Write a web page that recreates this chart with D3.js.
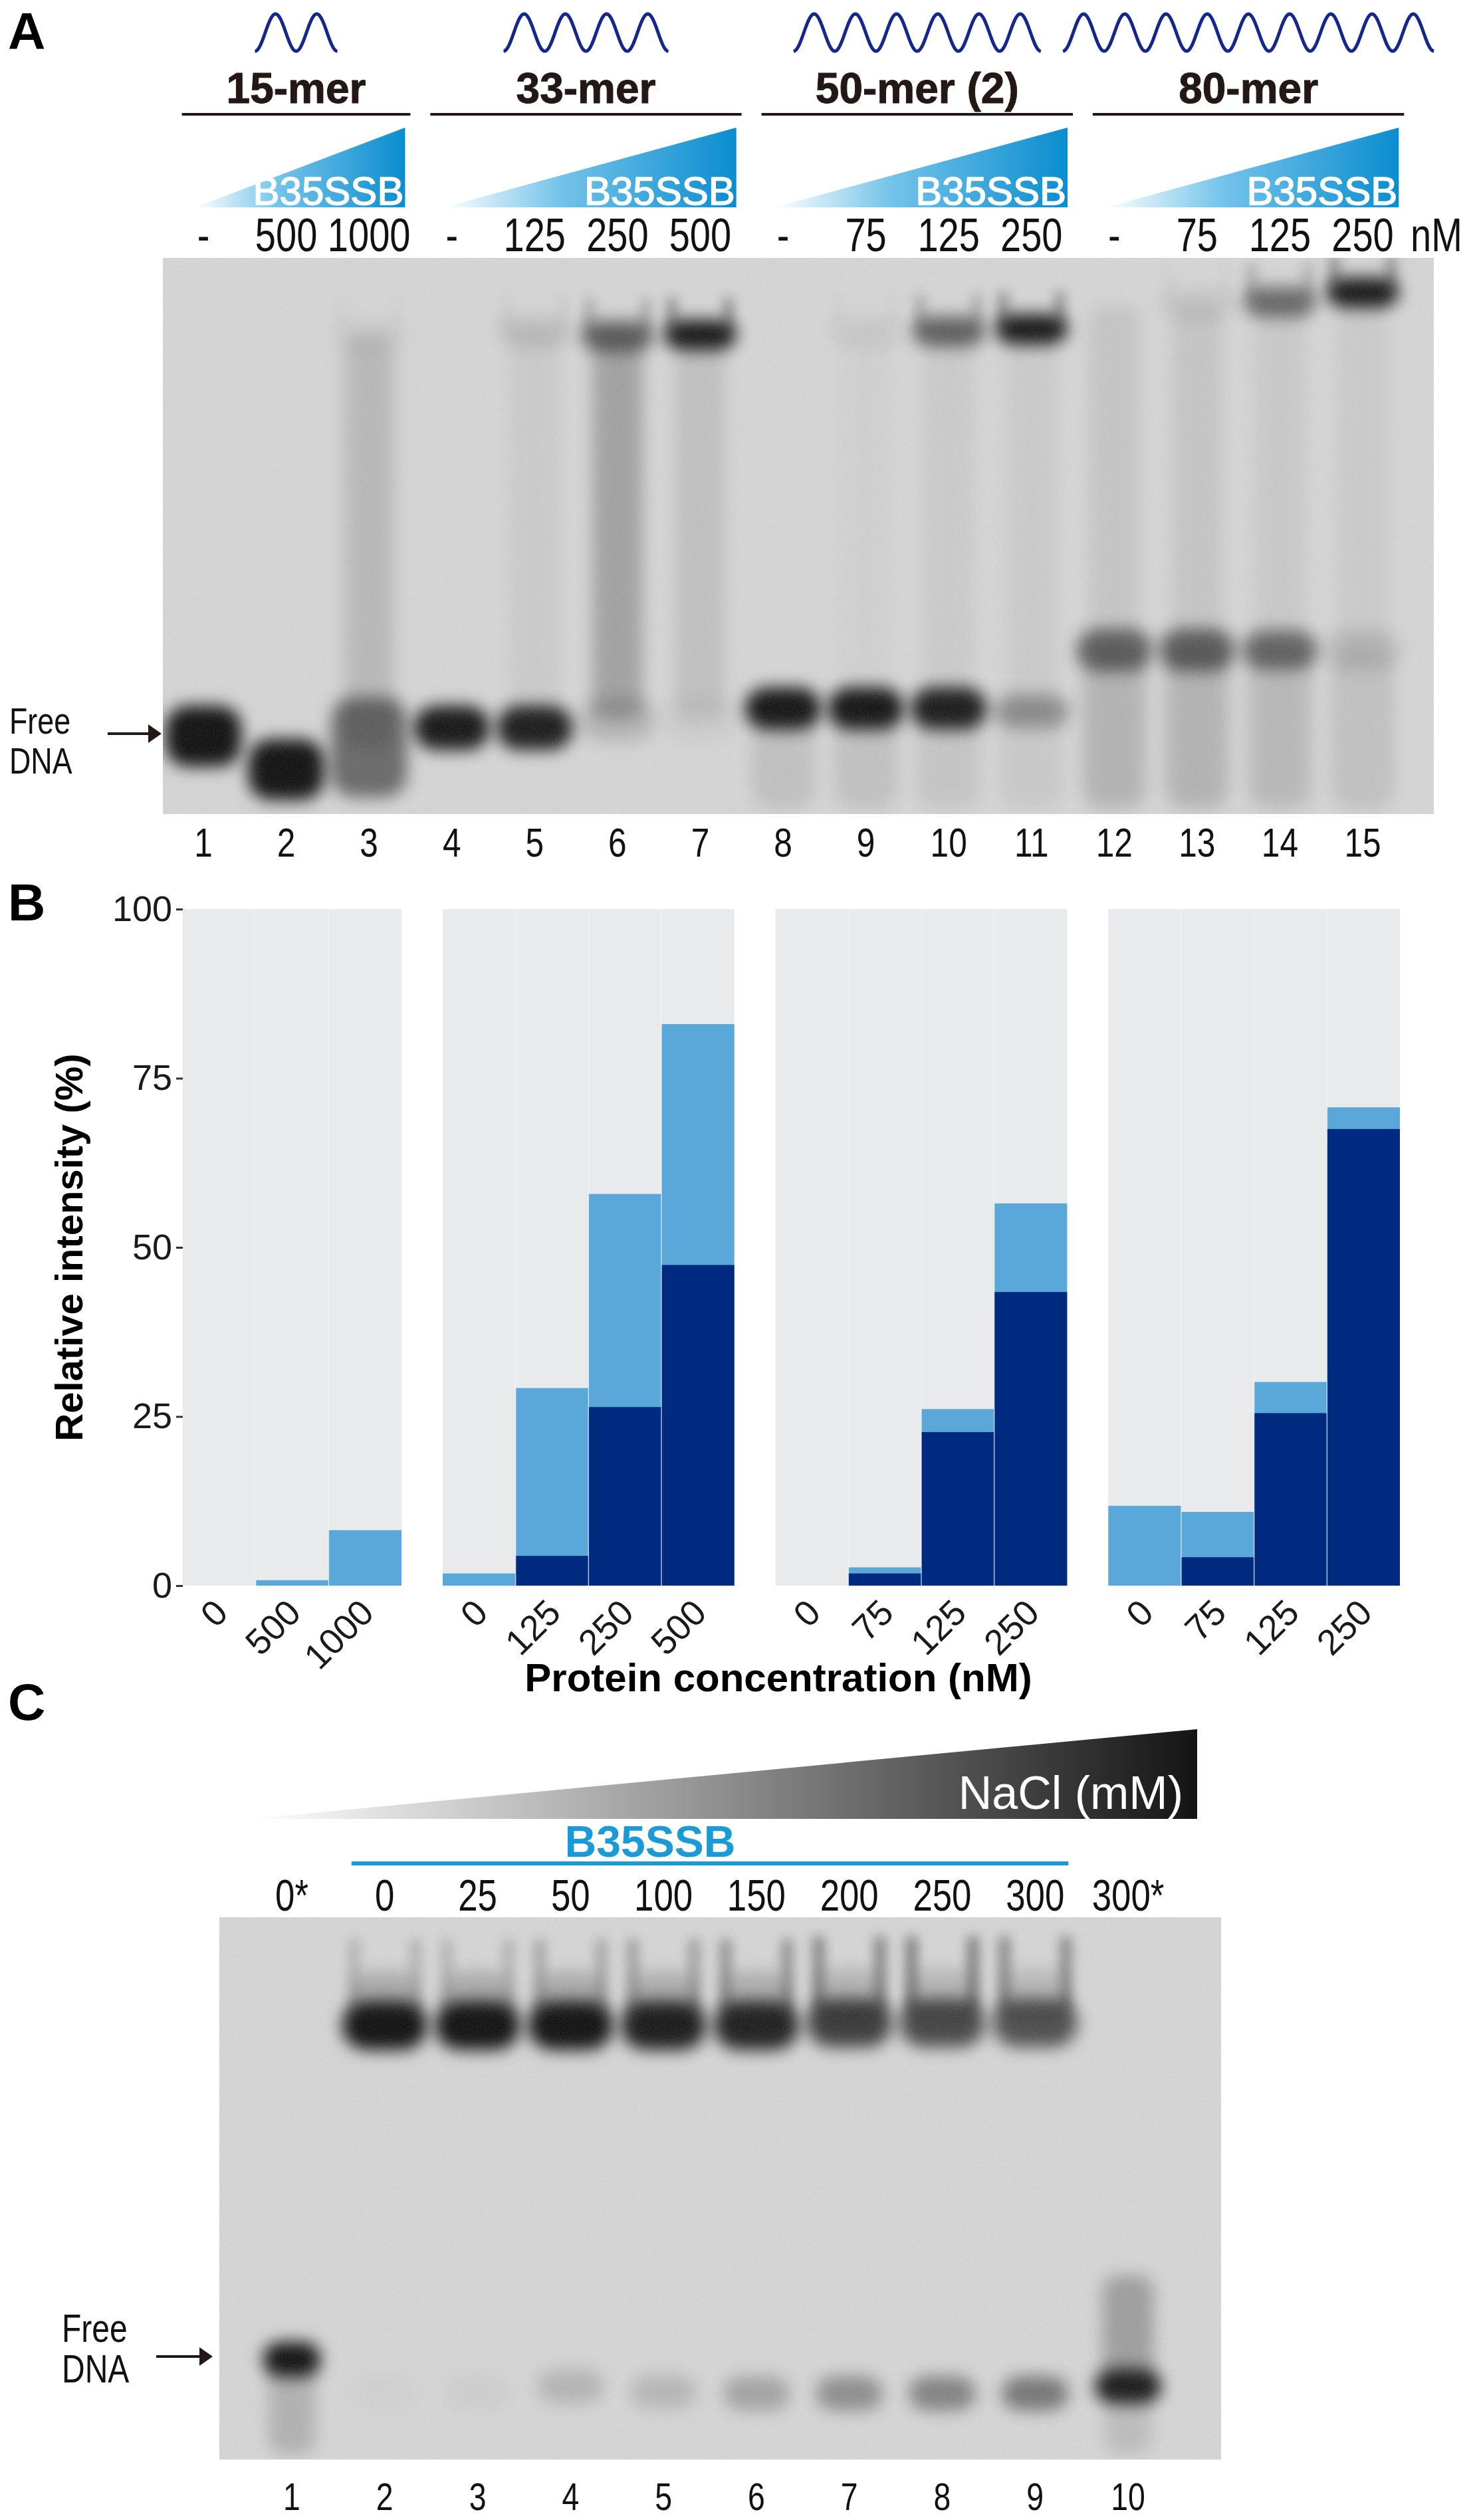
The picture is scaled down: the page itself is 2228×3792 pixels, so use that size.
<!DOCTYPE html>
<html>
<head>
<meta charset="utf-8">
<script src="https://cdn.jsdelivr.net/npm/d3@7"></script>
<style>
  body { margin: 0; background: #fff; }
  svg { display: block; }
  text { font-family: "Liberation Sans", Arial, sans-serif; }
</style>
</head>
<body>
<div id="fig"></div>
<script>
// ---------- data ----------
// panel A: EMSA with oligos of different length
const oligos = ['15-mer', '33-mer', '50-mer (2)', '80-mer'];
const waveCycles = [2, 4, 6, 9];
const groupLanes = [[1, 3], [4, 7], [8, 11], [12, 15]];
const concLabelsA = ['-', '500', '1000', '-', '125', '250', '500', '-', '75', '125', '250', '-', '75', '125', '250'];
const laneNumbersA = d3.range(1, 16);
// band estimates: migration in % of gel length (0 = well), spread in %, darkness 0..1
const freeMigA = [86, 92, 88, 84.5, 84.5, 83, 83, 81, 81, 81, 81.5, 70.5, 70.5, 70.5, 70.5];
const freeSpreadA = [5.5, 5.5, 9, 4, 4, 4, 4, 3.8, 3.8, 3.8, 3, 3.8, 3.8, 3.5, 3.5];
const freeIntA = [1, 1, 0.55, 0.97, 0.94, 0.16, 0.04, 0.98, 0.98, 0.94, 0.35, 0.58, 0.6, 0.55, 0.13];
const cplxMigA = [14, 14, 14, 14, 13.6, 14.3, 14.1, 13.5, 13.5, 13.5, 13.1, 8.6, 8.6, 8.2, 6.5];
const cplxIntA = [0, 0, 0.05, 0, 0.12, 0.6, 0.97, 0, 0.06, 0.6, 0.97, 0, 0.08, 0.55, 0.97];
const smearIntA = [0, 0, 0.14, 0, 0.05, 0.26, 0.1, 0, 0.02, 0.05, 0.05, 0.08, 0.08, 0.06, 0.05];
const tailIntA = [0, 0, 0, 0, 0, 0, 0, 0.1, 0.1, 0.08, 0.06, 0.17, 0.17, 0.14, 0.1];

// panel B: quantification (%)
const facetsB = ['15-mer', '33-mer', '50-mer', '80-mer'];
const concB = [['0', '500', '1000'], ['0', '125', '250', '500'], ['0', '75', '125', '250'], ['0', '75', '125', '250']];
const boundTotal = [[0, 0.8, 8.2], [1.8, 29.2, 57.9, 83.0], [0, 2.7, 26.1, 56.5], [11.8, 10.9, 30.1, 70.7]];
const boundComplex = [[0, 0, 0], [0, 4.4, 26.4, 47.4], [0, 1.8, 22.7, 43.4], [0, 4.2, 25.5, 67.5]];
const yTicksB = [0, 25, 50, 75, 100];

// panel C: NaCl titration
const naclLabels = ['0*', '0', '25', '50', '100', '150', '200', '250', '300', '300*'];
const laneNumbersC = d3.range(1, 11);
const cplxMigC = [20, 20, 20, 20, 20, 20, 19.5, 19.5, 19.5, 20];
const cplxIntC = [0, 1, 1, 1, 0.95, 0.92, 0.78, 0.72, 0.68, 0];
const streakIntC = [0, 0.2, 0.2, 0.28, 0.32, 0.4, 0.48, 0.52, 0.45, 0];
const freeMigC = [81.5, 87.5, 87.5, 86.5, 87.5, 87.8, 87.8, 87.8, 87.8, 86.5];
const freeIntC = [1, 0.02, 0.03, 0.16, 0.15, 0.25, 0.36, 0.42, 0.48, 0.95];
const tailIntC = [0.18, 0, 0, 0, 0, 0, 0, 0, 0, 0.12];

// ---------- setup ----------
const W = 2228, H = 3792;
const svg = d3.select('#fig').append('svg').attr('width', W).attr('height', H);
svg.append('rect').attr('width', W).attr('height', H).attr('fill', '#fff');
const defs = svg.append('defs');

[['blur12', 12], ['blur9', 9], ['blur18', 18]].forEach(([id, s]) => {
  defs.append('filter').attr('id', id)
    .attr('x', '-120%').attr('y', '-80%').attr('width', '340%').attr('height', '260%')
    .append('feGaussianBlur').attr('stdDeviation', s);
});
const grain = defs.append('filter').attr('id', 'grain')
  .attr('x', 0).attr('y', 0).attr('width', '100%').attr('height', '100%');
grain.append('feTurbulence').attr('type', 'fractalNoise').attr('baseFrequency', 0.8)
  .attr('numOctaves', 2).attr('seed', 7);
grain.append('feColorMatrix').attr('type', 'saturate').attr('values', 0);

const blueGrad = defs.append('linearGradient').attr('id', 'blueGrad')
  .attr('x1', '0%').attr('x2', '100%').attr('y1', '0%').attr('y2', '0%');
blueGrad.append('stop').attr('offset', '0%').attr('stop-color', '#ffffff');
blueGrad.append('stop').attr('offset', '40%').attr('stop-color', '#73c3ea');
blueGrad.append('stop').attr('offset', '100%').attr('stop-color', '#0a8dcf');

const greyGrad = defs.append('linearGradient').attr('id', 'greyGrad')
  .attr('x1', '0%').attr('x2', '100%').attr('y1', '0%').attr('y2', '0%');
greyGrad.append('stop').attr('offset', '0%').attr('stop-color', '#ffffff');
greyGrad.append('stop').attr('offset', '45%').attr('stop-color', '#9a9a9a');
greyGrad.append('stop').attr('offset', '100%').attr('stop-color', '#141414');

// condensed text helper (the gel labels use a narrow face)
function narrow(sel, x, y, str, size, anchor, weight) {
  return sel.append('text')
    .attr('transform', `translate(${x},${y}) scale(0.8,1)`)
    .attr('text-anchor', anchor || 'middle')
    .attr('font-size', size)
    .attr('font-weight', weight || 'normal')
    .attr('fill', '#111')
    .text(str);
}

function panelLabel(str, x, y) {
  svg.append('text').attr('x', x).attr('y', y).attr('font-size', 78)
    .attr('font-weight', 'bold').attr('fill', '#000').text(str);
}

function arrow(g, x1, x2, y) {
  g.append('line').attr('x1', x1).attr('x2', x2 - 14).attr('y1', y).attr('y2', y)
    .attr('stroke', '#231815').attr('stroke-width', 4);
  g.append('path').attr('d', `M${x2},${y} L${x2 - 20},${y - 14} L${x2 - 20},${y + 14} Z`)
    .attr('fill', '#231815');
}

// gel drawn from band list through lane / migration scales
function drawGel(id, box, xLane, step, bands) {
  const g = svg.append('g');
  defs.append('clipPath').attr('id', id).append('rect')
    .attr('x', box.x).attr('y', box.y).attr('width', box.w).attr('height', box.h);
  const inner = g.append('g').attr('clip-path', `url(#${id})`);
  inner.append('rect').attr('x', box.x).attr('y', box.y).attr('width', box.w).attr('height', box.h)
    .attr('fill', '#d8d8d8');
  const yMig = d3.scaleLinear().domain([0, 100]).range([box.y, box.y + box.h]);
  inner.selectAll('rect.band').data(bands).enter().append('rect')
    .attr('class', 'band')
    .attr('x', d => xLane(d.lane) + step * ((d.dx || 0) - d.w / 2))
    .attr('width', d => step * d.w)
    .attr('y', d => yMig(d.from))
    .attr('height', d => yMig(d.to) - yMig(d.from))
    .attr('rx', d => step * d.w * 0.3)
    .attr('fill', '#000')
    .attr('opacity', d => d.int)
    .attr('filter', d => `url(#${d.blur})`);
  inner.append('rect').attr('x', box.x).attr('y', box.y).attr('width', box.w).attr('height', box.h)
    .attr('filter', 'url(#grain)').attr('opacity', 0.28);
  return g;
}

// ---------- panel A ----------
panelLabel('A', 12, 74);
const xA = d3.scaleLinear().domain([1, 15]).range([306, 2050]);
const stepA = xA(2) - xA(1);
const gA = svg.append('g');

groupLanes.forEach(([a, b], i) => {
  const left = xA(a) - stepA * 0.26, right = xA(b) + stepA * 0.5;
  const cx = (left + right) / 2;
  // ssDNA glyph
  const w = waveCycles[i] * 62;
  const pts = d3.range(0, 301).map(k => {
    const t = k / 300;
    return [cx - w / 2 + t * w, 49 + 28 * Math.cos(2 * Math.PI * waveCycles[i] * t)];
  });
  gA.append('path').attr('d', d3.line()(pts)).attr('fill', 'none')
    .attr('stroke', '#15268c').attr('stroke-width', 5);
  // oligo name + rule
  gA.append('text').attr('x', cx).attr('y', 155).attr('text-anchor', 'middle')
    .attr('font-size', 64).attr('font-weight', 'bold').attr('fill', '#231815')
    .attr('stroke', '#231815').attr('stroke-width', 1).text(oligos[i]);
  gA.append('line').attr('x1', left).attr('x2', right).attr('y1', 172).attr('y2', 172)
    .attr('stroke', '#231815').attr('stroke-width', 4);
  // titration wedge
  const tl = xA(a) - stepA * 0.1, tr = right - 8;
  gA.append('path').attr('d', `M${tl},312 L${tr},192 L${tr},312 Z`).attr('fill', 'url(#blueGrad)');
  gA.append('text').attr('x', tr - 2).attr('y', 308).attr('text-anchor', 'end')
    .attr('font-size', 60).attr('fill', '#fff').attr('stroke', '#fff').attr('stroke-width', 1.5)
    .text('B35SSB');
});

laneNumbersA.forEach((n, i) => {
  narrow(gA, xA(n), 378, concLabelsA[i], 70);
  narrow(gA, xA(n), 1289, String(n), 62);
});
narrow(gA, 2122, 378, 'nM', 70, 'start');

const bandsA = [];
laneNumbersA.forEach((lane, i) => {
  if (smearIntA[i] > 0) bandsA.push({ lane, from: cplxMigA[i], to: freeMigA[i], int: smearIntA[i], w: 0.6, blur: 'blur12' });
  if (tailIntA[i] > 0) bandsA.push({ lane, from: freeMigA[i], to: 99, int: tailIntA[i], w: 0.75, blur: 'blur12' });
  if (cplxIntA[i] > 0) {
    bandsA.push({ lane, from: cplxMigA[i] - 3, to: cplxMigA[i] + 2.5, int: cplxIntA[i], w: 0.88, blur: 'blur12' });
    // soft streaks rising from the complex at the lane edges
    [-0.34, 0.34].forEach(dx => bandsA.push({ lane, dx, from: cplxMigA[i] - 7, to: cplxMigA[i] - 1, int: cplxIntA[i] * 0.4, w: 0.12, blur: 'blur9' }));
  }
  if (freeIntA[i] > 0) bandsA.push({ lane, from: freeMigA[i] - freeSpreadA[i], to: freeMigA[i] + freeSpreadA[i], int: freeIntA[i], w: 0.92, blur: 'blur12' });
});
drawGel('clipA', { x: 245, y: 388, w: 1912, h: 837 }, xA, stepA, bandsA);

narrow(gA, 14, 1104, 'Free', 56, 'start');
narrow(gA, 14, 1164, 'DNA', 56, 'start');
arrow(gA, 162, 243, 1104);

// ---------- panel B ----------
panelLabel('B', 12, 1385);
const gB = svg.append('g');
const yB = d3.scaleLinear().domain([0, 100]).range([2386, 1368]);
const plotL = 275, plotR = 2106, gap = 62;
const nCols = d3.sum(concB, d => d.length);
const colW = (plotR - plotL - gap * (concB.length - 1)) / nCols;

let x0 = plotL;
facetsB.forEach((f, fi) => {
  const cats = concB[fi];
  const xb = d3.scaleBand().domain(cats).range([x0, x0 + colW * cats.length]).padding(0);
  const fg = gB.append('g');
  fg.append('rect').attr('x', x0).attr('y', yB(100)).attr('width', colW * cats.length)
    .attr('height', yB(0) - yB(100)).attr('fill', '#e9eaec');
  const rows = cats.map((c, i) => ({ c, total: boundTotal[fi][i], cplx: boundComplex[fi][i] }));
  fg.selectAll('rect.tot').data(rows).enter().append('rect').attr('class', 'tot')
    .attr('x', d => xb(d.c)).attr('width', xb.bandwidth())
    .attr('y', d => yB(d.total)).attr('height', d => yB(0) - yB(d.total))
    .attr('fill', '#5aa7d9');
  fg.selectAll('rect.cpx').data(rows).enter().append('rect').attr('class', 'cpx')
    .attr('x', d => xb(d.c)).attr('width', xb.bandwidth())
    .attr('y', d => yB(d.cplx)).attr('height', d => yB(0) - yB(d.cplx))
    .attr('fill', '#002a80');
  // thin separators between bars
  fg.selectAll('line.sep').data(cats.slice(1)).enter().append('line')
    .attr('x1', d => xb(d)).attr('x2', d => xb(d))
    .attr('y1', yB(100)).attr('y2', yB(0))
    .attr('stroke', '#f4f5f7').attr('stroke-width', 1.5).attr('opacity', 0.7);
  // rotated tick labels
  fg.selectAll('text.tick').data(cats).enter().append('text')
    .attr('transform', d => `translate(${xb(d) + xb.bandwidth() / 2 + 16},${2430}) rotate(-45)`)
    .attr('text-anchor', 'end').attr('font-size', 54).attr('fill', '#1a1a1a')
    .text(d => d);
  x0 += colW * cats.length + gap;
});

const yAxis = gB.append('g').attr('transform', `translate(${plotL},0)`)
  .call(d3.axisLeft(yB).tickValues(yTicksB).tickSize(10).tickPadding(6));
yAxis.select('.domain').remove();
yAxis.selectAll('line').attr('stroke', '#333').attr('stroke-width', 3);
yAxis.selectAll('text').attr('font-size', 54).attr('fill', '#1a1a1a')
  .attr('font-family', '"Liberation Sans", Arial, sans-serif');

gB.append('text').attr('transform', `translate(124,${(yB(0) + yB(100)) / 2}) rotate(-90)`)
  .attr('text-anchor', 'middle').attr('font-size', 58).attr('font-weight', 'bold')
  .attr('fill', '#000').text('Relative intensity (%)');
gB.append('text').attr('x', 1171).attr('y', 2545).attr('text-anchor', 'middle')
  .attr('font-size', 60).attr('font-weight', 'bold').attr('fill', '#000')
  .text('Protein concentration (nM)');

// ---------- panel C ----------
panelLabel('C', 12, 2588);
const gC = svg.append('g');
const xC = d3.scaleLinear().domain([1, 10]).range([439, 1697]);
const stepC = xC(2) - xC(1);

gC.append('path').attr('d', 'M377,2737 L1801,2602 L1801,2737 Z').attr('fill', 'url(#greyGrad)');
gC.append('text').attr('x', 1780).attr('y', 2722).attr('text-anchor', 'end')
  .attr('font-size', 70).attr('fill', '#fff').text('NaCl (mM)');
gC.append('text').attr('x', (xC(2) + xC(9)) / 2 - 90).attr('y', 2794).attr('text-anchor', 'middle')
  .attr('font-size', 66).attr('font-weight', 'bold').attr('fill', '#1a9ad7').text('B35SSB');
gC.append('line').attr('x1', xC(2) - 50).attr('x2', xC(9) + 50).attr('y1', 2804).attr('y2', 2804)
  .attr('stroke', '#1a9ad7').attr('stroke-width', 6);

laneNumbersC.forEach((n, i) => {
  narrow(gC, xC(n), 2875, naclLabels[i], 66);
  narrow(gC, xC(n), 3777, String(n), 58);
});

const bandsC = [];
laneNumbersC.forEach((lane, i) => {
  if (cplxIntC[i] > 0) {
    bandsC.push({ lane, from: cplxMigC[i] - 4.5, to: cplxMigC[i] + 4.5, int: cplxIntC[i], w: 0.92, blur: 'blur12' });
    bandsC.push({ lane, from: cplxMigC[i] - 10, to: cplxMigC[i], int: cplxIntC[i] * 0.22, w: 0.7, blur: 'blur12' });
  }
  if (streakIntC[i] > 0) {
    [-0.33, 0.33].forEach(dx => bandsC.push({ lane, dx, from: cplxMigC[i] - 16, to: cplxMigC[i] - 2, int: streakIntC[i], w: 0.11, blur: 'blur9' }));
  }
  if (tailIntC[i] > 0) bandsC.push({ lane, from: freeMigC[i], to: 99, int: tailIntC[i], w: 0.5, blur: 'blur12' });
  if (freeIntC[i] > 0) bandsC.push({ lane, from: freeMigC[i] - 3.2, to: freeMigC[i] + 3.2, int: freeIntC[i], w: i === 0 ? 0.62 : 0.72, blur: 'blur12' });
});
// smear above the 300* free band
bandsC.push({ lane: 10, from: 66, to: 86, int: 0.28, w: 0.55, blur: 'blur12' });
drawGel('clipC', { x: 330, y: 2885, w: 1507, h: 816 }, xC, stepC, bandsC);

narrow(gC, 93, 3524, 'Free', 60, 'start');
narrow(gC, 93, 3585, 'DNA', 60, 'start');
arrow(gC, 235, 320, 3546);
</script>
</body>
</html>
